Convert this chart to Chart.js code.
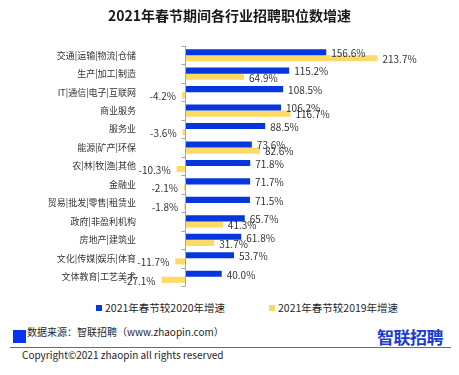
<!DOCTYPE html>
<html>
<head>
<meta charset="utf-8">
<script src="https://cdn.jsdelivr.net/npm/chart.js@4.4.0/dist/chart.umd.min.js"></script>
<style>
    body { margin: 0; background: #fff; font-family: "Noto Sans CJK SC", "Noto Sans", sans-serif; }
    #wrap { position: relative; width: 459px; height: 375px; overflow: hidden; }
    #title { position: absolute; left: 0; top: 5px; width: 459px; text-align: center; font-size: 14px; font-weight: bold; color: #1a1a1a; }
    #chartBox { position: absolute; left: 0; top: 0; width: 459px; height: 300px; }
    .leg { position: absolute; top: 300px; font-size: 10.5px; color: #262626; white-space: nowrap; }
    .leg i { display: inline-block; width: 6px; height: 6px; margin-right: 3px; vertical-align: 1px; }
    #srcBox { position: absolute; left: 13px; top: 330px; width: 13px; height: 13px; background: #0a32f0; }
    #src { position: absolute; left: 27px; top: 324px; font-size: 10px; color: #262626; white-space: nowrap; }
    #logo { position: absolute; left: 377px; top: 324px; font-size: 17px; font-weight: bold; color: #1a3cd2; letter-spacing: -0.5px; }
    #rule { position: absolute; left: 10px; top: 347px; width: 441px; height: 1px; background: #6b6b6b; }
    #copy { position: absolute; left: 22px; top: 347px; font-size: 10px; color: #262626; white-space: nowrap; }
</style>
</head>
<body>
<div id="wrap">
    <div id="chartBox"><canvas id="growthChart"></canvas></div>
    <div id="title">2021年春节期间各行业招聘职位数增速</div>
    <div class="leg" style="left:96px"><i style="background:#0536e0"></i>2021年春节较2020年增速</div>
    <div class="leg" style="left:269px"><i style="background:#ffd966"></i>2021年春节较2019年增速</div>
    <div id="srcBox"></div>
    <div id="src">数据来源：智联招聘（www.zhaopin.com）</div>
    <div id="logo">智联招聘</div>
    <div id="rule"></div>
    <div id="copy">Copyright©2021 zhaopin all rights reserved</div>
</div>
<script>
// categories and growth values (%)
const industries = [
    '交通|运输|物流|仓储', '生产|加工|制造', 'IT|通信|电子|互联网', '商业服务', '服务业',
    '能源|矿产|环保', '农|林|牧|渔|其他', '金融业', '贸易|批发|零售|租赁业',
    '政府|非盈利机构', '房地产|建筑业', '文化|传媒|娱乐|体育', '文体教育|工艺美术'
];
const vs2020 = [156.6, 115.2, 108.5, 106.2, 88.5, 73.6, 71.8, 71.7, 71.5, 65.7, 61.8, 53.7, 40.0];
const vs2019 = [213.7, 64.9, -4.2, 116.7, -3.6, 82.6, -10.3, -2.1, -1.8, 41.3, 31.7, -11.7, -27.1];

const colors = {
    blue: '#0536e0',
    yellow: '#ffd966',
    axis: '#a6a6a6',
    text: '#333333'
};

// zero line with small tick marks at category boundaries
const zeroAxis = {
    id: 'zeroAxis',
    afterDatasetsDraw(chart) {
        const ctx = chart.ctx;
        const area = chart.chartArea;
        const x0 = Math.round(chart.scales.x.getPixelForValue(0)) - 0.5;
        const n = industries.length;
        const step = (area.bottom - area.top) / n;
        ctx.save();
        ctx.strokeStyle = colors.axis;
        ctx.lineWidth = 1;
        ctx.beginPath();
        ctx.moveTo(x0, area.top);
        ctx.lineTo(x0, area.bottom);
        for (let i = 0; i <= n; i++) {
            const y = Math.round(area.top + i * step) + 0.5;
            ctx.moveTo(x0 - 4, y);
            ctx.lineTo(x0, y);
        }
        ctx.stroke();
        ctx.restore();
    }
};

// value labels at bar ends
const barLabels = {
    id: 'barLabels',
    afterDatasetsDraw(chart) {
        const ctx = chart.ctx;
        ctx.save();
        ctx.font = '10px "Noto Sans CJK SC", sans-serif';
        ctx.fillStyle = colors.text;
        ctx.textBaseline = 'middle';
        chart.data.datasets.forEach((ds, di) => {
            const meta = chart.getDatasetMeta(di);
            meta.data.forEach((bar, i) => {
                const v = ds.data[i];
                const txt = v.toFixed(1) + '%';
                if (v >= 0) {
                    ctx.textAlign = 'left';
                    ctx.fillText(txt, bar.x + 5, bar.y + 1);
                } else {
                    ctx.textAlign = 'right';
                    ctx.fillText(txt, bar.x - 6, bar.y + 1);
                }
            });
        });
        ctx.restore();
    }
};

new Chart(document.getElementById('growthChart'), {
    type: 'bar',
    data: {
        labels: industries,
        datasets: [
            {
                label: '2021年春节较2020年增速',
                data: vs2020,
                backgroundColor: colors.blue,
                categoryPercentage: 0.66,
                barPercentage: 1.0
            },
            {
                label: '2021年春节较2019年增速',
                data: vs2019,
                backgroundColor: colors.yellow,
                categoryPercentage: 0.66,
                barPercentage: 1.0
            }
        ]
    },
    options: {
        indexAxis: 'y',
        responsive: true,
        maintainAspectRatio: false,
        animation: false,
        layout: {
            padding: { top: 46, bottom: 14, right: 49, left: 0 }
        },
        plugins: {
            legend: { display: false },
            tooltip: { enabled: false }
        },
        scales: {
            x: {
                display: false,
                min: -50,
                max: 250
            },
            y: {
                grid: { display: false, drawTicks: false },
                border: { display: false },
                afterFit: function(scale) {
                    scale.width = 141;
                },
                ticks: {
                    padding: 5,
                    color: colors.text,
                    font: { family: '"Noto Sans CJK SC", sans-serif', size: 9 }
                }
            }
        }
    },
    plugins: [zeroAxis, barLabels]
});
</script>
</body>
</html>
